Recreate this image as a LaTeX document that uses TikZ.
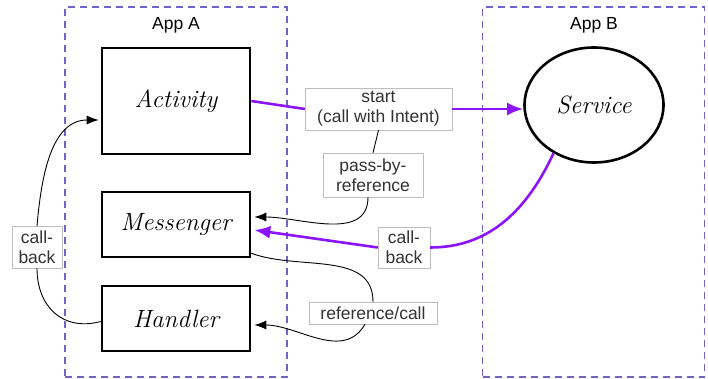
\documentclass[tikz,border=0pt]{standalone}
\usepackage{fontspec}
\newfontfamily\labelfont{Liberation Sans}
\usetikzlibrary{arrows.meta,positioning,shapes.geometric}
\definecolor{appblue}{RGB}{110,100,200}
\definecolor{callpurple}{RGB}{140,20,250}
\definecolor{lblgray}{RGB}{190,190,190}
\newcommand{\hand}{\fontsize{25}{28}\selectfont\itshape}

\begin{document}
\begin{tikzpicture}[
    x=1pt, y=-1pt,
    app/.style={draw=appblue, line width=1.4pt, dash pattern=on 7pt off 5pt, minimum width=222pt, minimum height=370pt},
    box/.style={draw, line width=2.6pt, minimum width=148pt, font=\hand},
    lbl/.style={draw=lblgray, fill=white, text=black!80, font=\labelfont\fontsize{17.5}{20}\selectfont, align=center, inner sep=1pt},
    arrow/.style={-{Latex[length=12pt,width=9pt]}, line width=0.9pt},
    thin/.style={line width=0.9pt},
    callline/.style={draw=callpurple, line width=2.6pt},
    callarrow/.style={callline, -{Latex[length=16pt,width=13pt]}}
]
\useasboundingbox (0,0) rectangle (708,379);
% the two apps
\node[app] (appA) at (176,192) {};
\node[app] (appB) at (593.5,192) {};
\node[font=\labelfont\fontsize{17.5}{20}\selectfont] (titleA) at (176,25) {App A};
\node[font=\labelfont\fontsize{17.5}{20}\selectfont] (titleB) at (594,25) {App B};
% components
\node[box, minimum height=106pt] (act) at (176,101) {Activity};
\node[box, minimum height=65pt] (mess) at (176,224.5) {Messenger};
\node[box, minimum height=65pt] (hndl) at (176,318.5) {Handler};
\node[draw, ellipse, line width=2.6pt, minimum width=139pt, minimum height=115pt, font=\hand] (srv) at (594,105) {Service};
% labels on the connectors
\node[lbl, minimum width=147pt, minimum height=42pt] (start) at (378.5,109) {start\\(call with Intent)};
\node[lbl, minimum width=100pt, minimum height=44pt] (pass) at (373,175) {pass-by-\\reference};
\node[lbl, minimum width=52pt, minimum height=41pt] (cbB) at (404,247.5) {call-\\back};
\node[lbl, minimum width=128pt, minimum height=22pt] (refcall) at (373,313) {reference/call};
\node[lbl, minimum width=50pt, minimum height=42pt] (cbA) at (37,247) {call-\\back};
% connectors
\draw[callline] (act.east) -- (start.west);
\draw[callarrow] (start.east) -- (start.east -| srv.west);
\draw[thin] (start.south) -- (pass.north);
\draw[arrow] ([xshift=-5pt]pass.south) to[out=-90, in=0] ([xshift=3pt,yshift=7.5pt]mess.east);
\draw[callline] (srv.-130) to[out=-115, in=0] (cbB.east);
\draw[callarrow] (cbB.west) -- ([xshift=3pt,yshift=-5.5pt]mess.east);
\draw[thin] ([yshift=5pt]mess.south east) to[out=-20, in=90] (refcall.north);
\draw[arrow] ([xshift=-8pt]refcall.south) to[out=-120, in=0] ([xshift=3pt,yshift=-6.5pt]hndl.east);
\draw[thin] ([yshift=-3pt]hndl.west) to[out=195, in=-90, looseness=1.2] (cbA.south);
\draw[arrow] (cbA.north) to[out=85, in=180] ([xshift=-2pt,yshift=-19pt]act.west);
\end{tikzpicture}
\end{document}
